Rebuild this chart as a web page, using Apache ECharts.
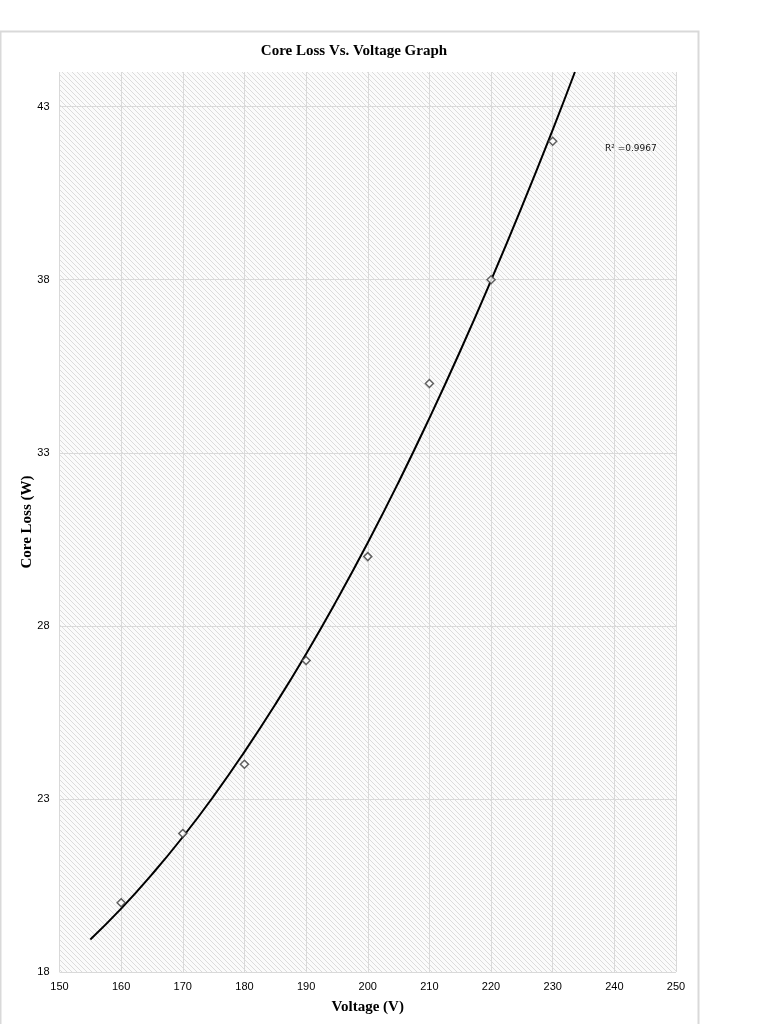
<!DOCTYPE html>
<html>
<head>
<meta charset="utf-8">
<script src="https://cdn.jsdelivr.net/npm/echarts@6/dist/echarts.min.js"></script>
<style>
html,body{margin:0;padding:0;background:#fff;}
#chart{width:768px;height:1024px;}
</style>
</head>
<body>
<div id="chart"></div>
<script>
// Measured data points (Voltage V, Core Loss W)
const voltage = [160, 170, 180, 190, 200, 210, 220, 230];
const coreLoss = [20, 22, 24, 27, 30, 35, 38, 42];
// Trendline (polynomial)
const trendX = [155, 160, 165, 170, 175, 180, 185, 190, 195, 200, 205, 210, 215, 220, 225, 230, 233.6];
const trendY = [18.94, 19.83, 20.82, 21.90, 23.08, 24.36, 25.73, 27.19, 28.75, 30.40, 32.15, 34.00, 35.94, 37.98, 40.11, 42.33, 44.0];
const yTicks = [18, 23, 28, 33, 38, 43];
const titleText = 'Core Loss Vs. Voltage Graph';
const xName = 'Voltage (V)';
const yName = 'Core Loss (W)';
const r2Text = 'R\u00B2 =0.9967';

// hatch pattern for plot background
const pc = document.createElement('canvas');
pc.width = 5; pc.height = 5;
const px = pc.getContext('2d');
px.fillStyle = '#fbfbfb';
px.fillRect(0, 0, 5, 5);
px.strokeStyle = '#dcdcdc';
px.lineWidth = 1;
px.beginPath();
px.moveTo(-1, -1); px.lineTo(6, 6);
px.moveTo(-4, 1); px.lineTo(3, 8);
px.moveTo(1, -4); px.lineTo(8, 3);
px.stroke();

const chart = echarts.init(document.getElementById('chart'), null, {renderer: 'canvas'});
const points = voltage.map((v, i) => [v, coreLoss[i]]);
const trend = trendX.map((v, i) => [v, trendY[i]]);

chart.setOption({
  animation: false,
  backgroundColor: '#ffffff',
  title: {
    text: titleText,
    left: 349, top: 39, textAlign: 'center',
    textStyle: {fontFamily: 'Liberation Serif', fontWeight: 'bold', fontSize: 15, color: '#000'}
  },
  graphic: [
    {type: 'rect', shape: {x: 0.5, y: 31.5, width: 698, height: 1010}, style: {fill: 'none', stroke: '#d9d9d9', lineWidth: 2}, silent: true, z: -10},
    {type: 'text', x: 605, y: 144, style: {text: r2Text, fontFamily: 'DejaVu Sans', fontSize: 9, fill: '#111'}}
  ],
  grid: {
    left: 59.5, right: 92, top: 72, bottom: 52,
    show: true, borderWidth: 0,
    backgroundColor: {image: pc, repeat: 'repeat'}
  },
  xAxis: {
    type: 'value', min: 150, max: 250, interval: 10,
    name: xName, nameLocation: 'middle', nameGap: 28,
    nameTextStyle: {fontFamily: 'Liberation Serif', fontWeight: 'bold', fontSize: 15, color: '#000'},
    axisLine: {show: false}, axisTick: {show: false},
    axisLabel: {fontFamily: 'Liberation Sans', fontSize: 11, color: '#000', margin: 9},
    splitLine: {show: true, lineStyle: {color: '#d9d9d9', width: 1}}
  },
  yAxis: {
    type: 'value', min: 18, max: 44,
    name: yName, nameLocation: 'middle', nameGap: 25, nameRotate: 90, nameMoveOverlap: false,
    nameTextStyle: {fontFamily: 'Liberation Serif', fontWeight: 'bold', fontSize: 15, color: '#000'},
    axisLine: {show: false},
    axisTick: {show: false, customValues: yTicks},
    axisLabel: {fontFamily: 'Liberation Sans', fontSize: 11, color: '#000', margin: 10, customValues: yTicks},
    splitLine: {show: true, lineStyle: {color: '#d9d9d9', width: 1}}
  },
  series: [
    {
      type: 'line', data: trend, smooth: true, showSymbol: false, symbol: 'none',
      lineStyle: {color: '#000', width: 2}, z: 2, silent: true
    },
    {
      type: 'scatter', data: points, symbol: 'diamond', symbolSize: [8, 8],
      itemStyle: {color: '#ffffff', borderColor: '#3a3a3a', borderWidth: 1.5}, z: 3
    }
  ]
});
</script>
</body>
</html>
